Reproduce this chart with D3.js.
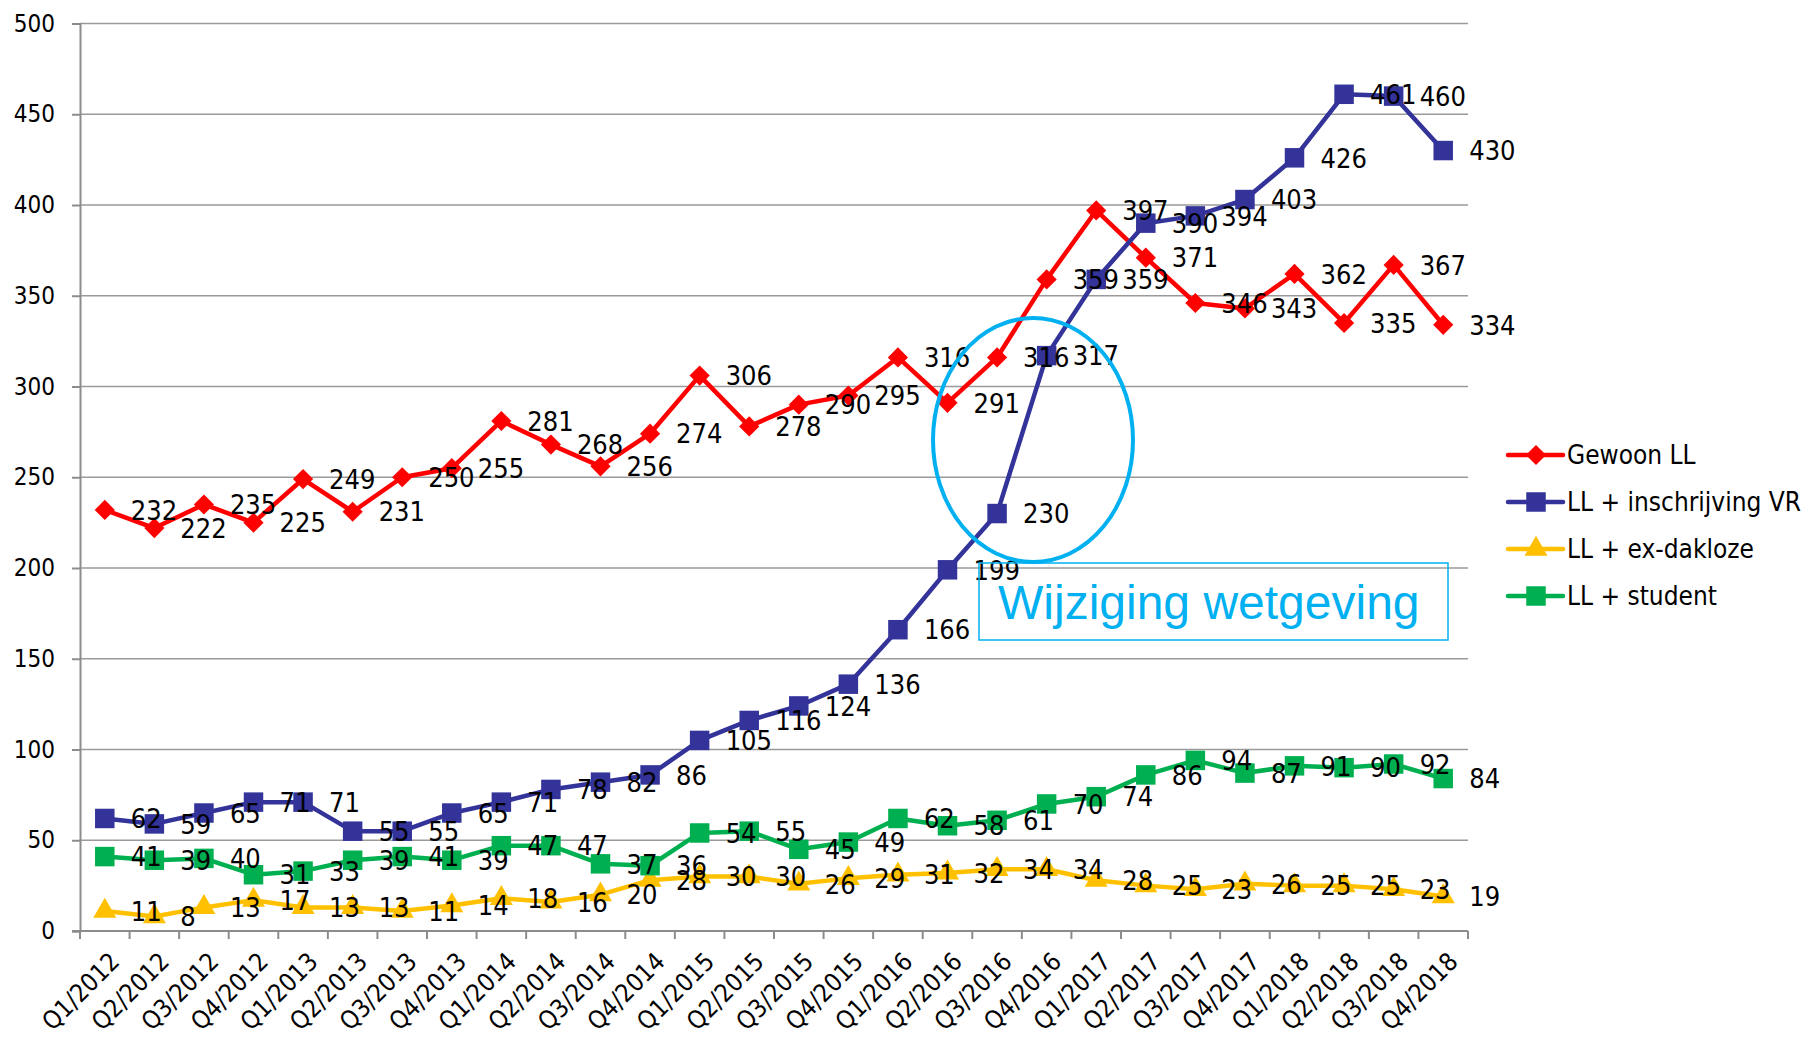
<!DOCTYPE html>
<html>
<head>
<meta charset="utf-8">
<script src="https://cdn.jsdelivr.net/npm/d3@7"></script>
<style>
  body { margin: 0; background: #fff; }
  svg { display: block; }
</style>
</head>
<body>
<div id="chart"></div>
<script>
const quarters = [
  'Q1/2012', 'Q2/2012', 'Q3/2012', 'Q4/2012',
  'Q1/2013', 'Q2/2013', 'Q3/2013', 'Q4/2013',
  'Q1/2014', 'Q2/2014', 'Q3/2014', 'Q4/2014',
  'Q1/2015', 'Q2/2015', 'Q3/2015', 'Q4/2015',
  'Q1/2016', 'Q2/2016', 'Q3/2016', 'Q4/2016',
  'Q1/2017', 'Q2/2017', 'Q3/2017', 'Q4/2017',
  'Q1/2018', 'Q2/2018', 'Q3/2018', 'Q4/2018'
]
const gewoon = [232, 222, 235, 225, 249, 231, 250, 255, 281, 268, 256, 274, 306, 278,
  290, 295, 316, 291, 316, 359, 397, 371, 346, 343, 362, 335, 367, 334]
const inschrijving = [62, 59, 65, 71, 71, 55, 55, 65, 71, 78, 82, 86, 105, 116,
  124, 136, 166, 199, 230, 317, 359, 390, 394, 403, 426, 461, 460, 430]
const dakloze = [11, 8, 13, 17, 13, 13, 11, 14, 18, 16, 20, 28, 30, 30,
  26, 29, 31, 32, 34, 34, 28, 25, 23, 26, 25, 25, 23, 19]
const student = [41, 39, 40, 31, 33, 39, 41, 39, 47, 47, 37, 36, 54, 55,
  45, 49, 62, 58, 61, 70, 74, 86, 94, 87, 91, 90, 92, 84]
const yTicks = [0, 50, 100, 150, 200, 250, 300, 350, 400, 450, 500]
const annotation = 'Wijziging wetgeving'

let series = [
  { name: 'Gewoon LL', values: gewoon, color: '#ff0000', symbol: d3.symbolDiamond2, size: 260 },
  { name: 'LL + inschrijving VR', values: inschrijving, color: '#333399', symbol: d3.symbolSquare, size: 380 },
  { name: 'LL + ex-dakloze', values: dakloze, color: '#ffc000', symbol: d3.symbolTriangle, size: 230 },
  { name: 'LL + student', values: student, color: '#00b050', symbol: d3.symbolSquare, size: 380 }
]

let W = 1805, H = 1037
let plot = { left: 80, right: 1468, top: 23.5, bottom: 931 }
let numFont = '"Liberation Sans Narrow", "DejaVu Sans Condensed", sans-serif'
let axisFont = '"DejaVu Sans Condensed", "DejaVu Sans", sans-serif'

let svg = d3.select('#chart').append('svg')
  .attr('width', W)
  .attr('height', H)
svg.append('rect').attr('width', W).attr('height', H).attr('fill', '#fff')

let x = d3.scaleBand().domain(quarters).range([plot.left, plot.right])
let y = d3.scaleLinear().domain([0, 500]).range([plot.bottom, plot.top])
let cx = function(d) { return x(d) + x.bandwidth() / 2 }

// gridlines
svg.append('g')
  .selectAll('line')
  .data(yTicks.filter(function(t) { return t > 0 }))
  .enter()
  .append('line')
  .attr('x1', plot.left)
  .attr('x2', plot.right)
  .attr('y1', function(d) { return y(d) })
  .attr('y2', function(d) { return y(d) })
  .attr('stroke', '#9a9a9a')
  .attr('stroke-width', 1.5)

// y axis
let yAxis = svg.append('g')
  .attr('transform', 'translate(' + plot.left + ',0)')
  .call(d3.axisLeft(y).tickValues(yTicks).tickSize(8).tickPadding(17))
yAxis.select('.domain').attr('stroke', '#8c8c8c').attr('stroke-width', 2)
yAxis.selectAll('.tick line').attr('stroke', '#8c8c8c').attr('stroke-width', 2)
yAxis.selectAll('text')
  .attr('font-family', axisFont)
  .attr('font-size', 24)
  .attr('fill', '#000')

// x axis: ticks on band edges
let xAxis = svg.append('g')
  .attr('transform', 'translate(0,' + plot.bottom + ')')
xAxis.append('line')
  .attr('x1', plot.left - 8)
  .attr('x2', plot.right)
  .attr('stroke', '#8c8c8c')
  .attr('stroke-width', 2)
xAxis.selectAll('line.tk')
  .data(quarters.concat(['end']))
  .enter()
  .append('line')
  .attr('class', 'tk')
  .attr('x1', function(d, i) { return i < quarters.length ? x(d) : plot.right })
  .attr('x2', function(d, i) { return i < quarters.length ? x(d) : plot.right })
  .attr('y1', 0)
  .attr('y2', 8)
  .attr('stroke', '#8c8c8c')
  .attr('stroke-width', 2)
xAxis.selectAll('text')
  .data(quarters)
  .enter()
  .append('text')
  .attr('transform', function(d) {
    return 'translate(' + (cx(d) + 10) + ',26)rotate(-45)'
  })
  .attr('text-anchor', 'end')
  .attr('dy', '0.35em')
  .attr('font-family', axisFont)
  .attr('font-size', 25)
  .text(function(d) { return d })

// lines and markers
let line = d3.line()
  .x(function(d, i) { return cx(quarters[i]) })
  .y(function(d) { return y(d) })

series.forEach(function(s) {
  let g = svg.append('g')
  g.append('path')
    .attr('d', line(s.values))
    .attr('fill', 'none')
    .attr('stroke', s.color)
    .attr('stroke-width', 4.5)
    .attr('stroke-linejoin', 'round')
  g.selectAll('path.mk')
    .data(s.values)
    .enter()
    .append('path')
    .attr('class', 'mk')
    .attr('d', d3.symbol().type(s.symbol).size(s.size))
    .attr('transform', function(d, i) {
      return 'translate(' + cx(quarters[i]) + ',' + y(d) + ')'
    })
    .attr('fill', s.color)
})

// data labels on top
series.forEach(function(s) {
  svg.append('g')
    .selectAll('text')
    .data(s.values)
    .enter()
    .append('text')
    .attr('x', function(d, i) { return cx(quarters[i]) + 26 })
    .attr('y', function(d) { return y(d) })
    .attr('dy', '0.36em')
    .attr('font-family', numFont)
    .attr('font-size', 27)
    .attr('fill', '#000')
    .text(function(d) { return d })
})

// annotation
svg.append('ellipse')
  .attr('cx', 1033)
  .attr('cy', 440)
  .attr('rx', 100)
  .attr('ry', 122)
  .attr('fill', 'none')
  .attr('stroke', '#00b0f0')
  .attr('stroke-width', 4)
svg.append('rect')
  .attr('x', 979)
  .attr('y', 563)
  .attr('width', 469)
  .attr('height', 77)
  .attr('fill', 'none')
  .attr('stroke', '#00b0f0')
  .attr('stroke-width', 1.5)
svg.append('text')
  .attr('x', 998)
  .attr('y', 619)
  .attr('font-family', '"Liberation Sans", Arial, sans-serif')
  .attr('font-size', 48)
  .attr('fill', '#00b0f0')
  .text(annotation)

// legend
let legend = svg.append('g')
  .attr('transform', 'translate(1508,455)')
let items = legend.selectAll('g')
  .data(series)
  .enter()
  .append('g')
  .attr('transform', function(d, i) { return 'translate(0,' + (i * 47) + ')' })
items.append('line')
  .attr('x1', 0)
  .attr('x2', 55)
  .attr('stroke', function(d) { return d.color })
  .attr('stroke-width', 4.5)
  .attr('stroke-linecap', 'round')
items.append('path')
  .attr('d', function(d) { return d3.symbol().type(d.symbol).size(d.size)() })
  .attr('transform', 'translate(28,0)')
  .attr('fill', function(d) { return d.color })
items.append('text')
  .attr('x', 59)
  .attr('dy', '0.36em')
  .attr('font-family', axisFont)
  .attr('font-size', 26)
  .text(function(d) { return d.name })
</script>
</body>
</html>
